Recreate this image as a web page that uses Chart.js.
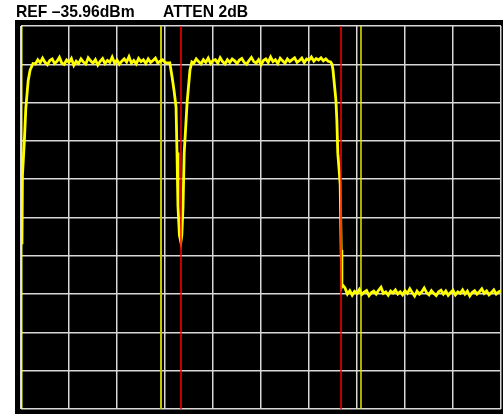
<!DOCTYPE html>
<html>
<head>
<meta charset="utf-8">
<script src="https://cdn.jsdelivr.net/npm/chart.js@4.4.1/dist/chart.umd.min.js"></script>
<style>
  html, body { margin: 0; padding: 0; background: #fff; }
  #wrap { position: relative; width: 503px; height: 414px; }
</style>
</head>
<body>
<div id="wrap"><canvas id="spectrum" width="503" height="414"></canvas></div>
<script>
// --- Заголовок ---
const refLabel = 'REF \u201335.96dBm';
const attenLabel = 'ATTEN 2dB';

// --- Оси: 10 делений по частоте, 10 дБ/дел ---
const freqMin = 0;
const freqMax = 10;
const levelMin = -100;
const levelMax = 0;

// --- Маркеры (в делениях) ---
const markerYellow = [0, 2.917, 7.083];
const markerRed = [3.333, 6.667];

// --- Трасса: фронт нарастания ---
const edgeRise = [
  [0.02, -57], [0.03, -39], [0.07, -30], [0.10, -21.5],
  [0.15, -14.2], [0.19, -11.5], [0.25, -9.8]
];

// полоса 1: 0.30 ... 3.05, шаг 0.05
const band1Start = 0.30;
const band1Level = [
  -9.9, -8.8, -9.6, -8.4, -9.5, -10.1, -9.0, -8.6, -9.8, -9.2,
  -8.2, -9.7, -10.0, -8.9, -9.5, -8.5, -10.3, -9.2, -9.8, -8.6,
  -9.4, -9.9, -8.3, -9.1, -9.7, -8.8, -10.2, -9.2, -8.5, -9.8,
  -9.0, -9.5, -8.1, -9.7, -8.9, -10.0, -9.2, -8.6, -9.4, -8.0,
  -9.7, -9.0, -9.9, -8.5, -9.3, -8.8, -9.8, -8.6, -9.5, -9.0,
  -8.4, -9.7, -9.2, -8.8, -9.5, -9.7
];

// режекция
const notch = [
  [3.10, -9.6], [3.15, -13.5], [3.19, -17], [3.23, -21.1], [3.25, -33],
  [3.27, -47], [3.30, -54.6], [3.33, -56.4], [3.35, -54.6], [3.375, -47.3],
  [3.40, -33.2], [3.46, -20.1], [3.52, -11.5], [3.56, -9.4]
];

// полоса 2: 3.60 ... 6.45, шаг 0.05
const band2Start = 3.60;
const band2Level = [
  -9.7, -8.6, -9.3, -9.9, -8.8, -9.5, -8.4, -9.8, -9.0, -8.8,
  -9.7, -8.3, -9.3, -9.9, -8.8, -9.5, -8.6, -9.1, -9.8, -8.9,
  -8.5, -9.5, -10.0, -9.0, -8.2, -9.3, -9.7, -8.8, -10.1, -9.0,
  -8.6, -9.5, -8.1, -9.3, -8.8, -9.8, -8.4, -9.1, -9.7, -8.6,
  -9.3, -8.8, -8.3, -9.5, -9.0, -8.4, -9.6, -8.6, -8.9, -8.1,
  -9.2, -8.5, -8.9, -8.3, -9.1, -8.6, -9.2, -9.4
];

// спад
const edgeFall = [
  [6.48, -10.0], [6.50, -11.5], [6.56, -19.3], [6.58, -24.5], [6.60, -33.2],
  [6.63, -38], [6.65, -41.5], [6.67, -58.5], [6.685, -68.0]
];

// шумовой пол: 6.70 ... 10.00, шаг 0.05
const floorStart = 6.70;
const floorLevel = [
  -67.6, -68.4, -70.0, -69.1, -70.3, -69.3, -69.8, -68.8, -70.1, -69.5,
  -69.1, -70.4, -69.6, -69.2, -70.0, -69.0, -68.2, -69.8, -69.4, -70.3,
  -69.2, -69.7, -68.9, -70.0, -69.4, -70.2, -69.1, -69.8, -68.6, -69.6,
  -70.5, -69.2, -70.0, -69.4, -68.4, -69.6, -70.2, -69.1, -69.8, -70.4,
  -69.4, -69.0, -70.0, -69.2, -70.3, -69.6, -69.0, -70.2, -69.4, -69.8,
  -68.9, -70.0, -69.2, -70.5, -69.6, -69.1, -70.0, -69.4, -68.6, -69.8,
  -69.2, -70.2, -69.6, -68.9, -70.0, -69.4, -69.1
];
const sweepStep = 0.05;

const pairs = list => list.map(([x, y]) => ({ x, y }));
const band = (start, values) => values.map((y, i) => ({ x: +(start + i * sweepStep).toFixed(3), y }));

const trace = [
  ...pairs(edgeRise),
  ...band(band1Start, band1Level),
  ...pairs(notch),
  ...band(band2Start, band2Level),
  ...pairs(edgeFall),
  ...band(floorStart, floorLevel)
];

const markerLine = x => [{ x, y: levelMin }, { x, y: levelMax }];
const yellowStyles = [
  { color: '#ffff1a', width: 3 },
  { color: '#c8c800', width: 2 },
  { color: '#e6e600', width: 1.5 }
];

// --- Фон экрана и подпись ---
const screenPlugin = {
  id: 'screen',
  beforeDraw(chart) {
    const ctx = chart.ctx;
    ctx.save();
    ctx.fillStyle = '#000';
    ctx.fillRect(15, 20, 488, 394);
    ctx.font = 'bold 15.7px "Liberation Sans", Arial, sans-serif';
    ctx.textBaseline = 'alphabetic';
    ctx.fillText(refLabel, 16, 17);
    ctx.fillText(attenLabel, 163, 17);
    ctx.restore();
  }
};

const ctx = document.getElementById('spectrum').getContext('2d');
new Chart(ctx, {
  type: 'line',
  data: {
    datasets: [
      ...markerYellow.map((x, i) => ({
        data: markerLine(x),
        borderColor: yellowStyles[i].color,
        borderWidth: yellowStyles[i].width,
        pointRadius: 0,
        order: 3
      })),
      {
        data: trace,
        borderColor: '#ffff00',
        borderWidth: 2.8,
        pointRadius: 0,
        tension: 0,
        order: 2
      },
      ...markerRed.map(x => ({
        data: markerLine(x),
        borderColor: '#ff0000',
        borderWidth: 1.5,
        pointRadius: 0,
        order: 1
      }))
    ]
  },
  options: {
    responsive: false,
    animation: false,
    layout: { padding: { left: 21, right: 2, top: 26, bottom: 5 } },
    plugins: {
      legend: { display: false },
      tooltip: { enabled: false }
    },
    scales: {
      x: {
        type: 'linear',
        min: freqMin,
        max: freqMax,
        ticks: { display: false, stepSize: 1 },
        grid: { color: '#d8d8d8', lineWidth: 1.5, drawTicks: false },
        border: { display: false }
      },
      y: {
        min: levelMin,
        max: levelMax,
        ticks: { display: false, stepSize: 10 },
        grid: { color: '#d8d8d8', lineWidth: 1.5, drawTicks: false },
        border: { display: false }
      }
    }
  },
  plugins: [screenPlugin]
});
</script>
</body>
</html>
